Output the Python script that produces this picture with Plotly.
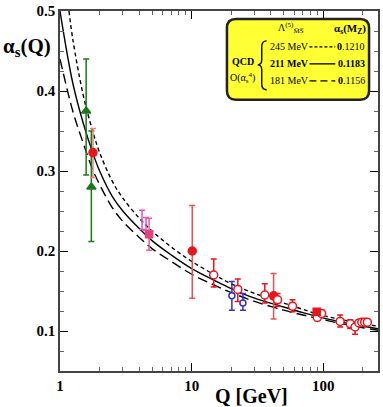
import plotly.graph_objects as go

# ---- data ----
curve_q = [1.0, 1.25, 1.5, 1.77, 2.0, 2.5, 3.0, 4.0, 5.0, 7.0, 10.0, 15.0, 20.0, 30.0, 50.0, 70.0, 91.2, 130.0, 200.0, 260.0]
curve_211 = [0.500, 0.410, 0.360, 0.323, 0.300, 0.268, 0.250, 0.228, 0.213, 0.195, 0.178, 0.163, 0.153, 0.141, 0.130, 0.123, 0.118, 0.112, 0.106, 0.103]
curve_q_245 = [1.17, 1.25, 1.5, 1.77, 2.0, 2.5, 3.0, 4.0, 5.0, 7.0, 10.0, 15.0, 20.0, 30.0, 50.0, 70.0, 91.2, 130.0, 200.0, 260.0]
curve_245 = [0.500, 0.465, 0.395, 0.350, 0.323, 0.287, 0.266, 0.241, 0.225, 0.205, 0.187, 0.170, 0.159, 0.147, 0.135, 0.127, 0.121, 0.115, 0.109, 0.106]
curve_181 = [0.440, 0.375, 0.335, 0.302, 0.283, 0.254, 0.237, 0.217, 0.203, 0.187, 0.171, 0.157, 0.148, 0.137, 0.126, 0.120, 0.1156, 0.110, 0.104, 0.101]

green_q = [1.58, 1.73]
green_a = [0.375, 0.280]
green_up = [0.065, 0.070]
green_dn = [0.080, 0.068]

tau_q = [1.78]
tau_a = [0.323]
tau_up = [0.030]
tau_dn = [0.031]

mag_q = [4.2, 4.5]
mag_a = [0.239, 0.234]
mag_up = [0.012, 0.008]
mag_dn = [0.012, 0.008]

ups_q = [4.75]
ups_a = [0.221]
ups_up = [0.020]
ups_dn = [0.020]

redf_q = [10.1, 41.9]
redf_a = [0.200, 0.144]
redf_up = [0.057, 0.028]
redf_dn = [0.059, 0.029]

blue_q = [20.2, 24.5]
blue_a = [0.144, 0.135]
blue_up = [0.018, 0.012]
blue_dn = [0.018, 0.009]

redo_q = [14.7, 22.4, 35.9, 44.9, 58.3, 90.0, 97.0, 134.0, 160.0, 174.0, 186.0, 196.0, 206.0, 216.0]
redo_a = [0.170, 0.152, 0.145, 0.139, 0.131, 0.117, 0.122, 0.112, 0.109, 0.105, 0.110, 0.111, 0.111, 0.111]
redo_up = [0.020, 0.013, 0.014, 0.008, 0.008, 0.004, 0.004, 0.008, 0.005, 0.005, 0.003, 0.003, 0.003, 0.003]
redo_dn = [0.015, 0.015, 0.010, 0.008, 0.007, 0.004, 0.004, 0.007, 0.006, 0.009, 0.003, 0.003, 0.003, 0.003]

mz_q = [89.0]
mz_a = [0.124]
mz_up = [0.003]
mz_dn = [0.003]

x_ticks = [1, 10, 100]
x_ticklabels = ["1", "10", "100"]
x_minor = [2, 3, 4, 5, 6, 7, 8, 9, 20, 30, 40, 50, 60, 70, 80, 90, 200]
y_ticks = [0.1, 0.2, 0.3, 0.4, 0.5]
y_ticklabels = ["0.1", "0.2", "0.3", "0.4", "0.5"]

FONT = "Liberation Serif"
RED = "#e8141e"

fig = go.Figure()

fig.add_trace(go.Scatter(x=curve_q_245, y=curve_245, mode="lines", line=dict(color="black", width=1.4, dash="4px,3px", shape="spline")))
fig.add_trace(go.Scatter(x=curve_q, y=curve_211, mode="lines", line=dict(color="black", width=1.4, shape="spline")))
fig.add_trace(go.Scatter(x=curve_q, y=curve_181, mode="lines", line=dict(color="black", width=1.4, dash="10px,5px", shape="spline")))


def pts(q, a, up, dn, symbol, color, fill, ecolor, size=8):
    fig.add_trace(go.Scatter(
        x=q, y=a, mode="markers",
        marker=dict(symbol=symbol, size=size, color=fill, line=dict(color=color, width=1.5)),
        error_y=dict(type="data", symmetric=False, array=up, arrayminus=dn,
                     color=ecolor, thickness=1.5, width=3),
        cliponaxis=False))


pts(green_q, green_a, green_up, green_dn, "triangle-up", "#1a7a1a", "#1a7a1a", "#1a7a1a", 8)
pts(tau_q, tau_a, tau_up, tau_dn, "circle", RED, RED, "#ee8080", 8)
pts(mag_q, mag_a, mag_up, mag_dn, "star-open", "#e050c0", "rgba(0,0,0,0)", "#e050c0", 8)
pts(ups_q, ups_a, ups_up, ups_dn, "square", "#e8407a", "#e8407a", "#e060a0", 7)
pts(redf_q, redf_a, redf_up, redf_dn, "circle", RED, RED, "#ee5050", 8)
pts(blue_q, blue_a, blue_up, blue_dn, "circle", "#3434c0", "white", "#3434c0", 6)
pts(redo_q, redo_a, redo_up, redo_dn, "circle", RED, "white", RED, 8)
pts(mz_q, mz_a, mz_up, mz_dn, "square", RED, RED, RED, 7)

# ---- legend box (paper coords from pixel layout) ----
L, R, T, B = 60, 380, 10, 371
W, H = R - L, B - T


def px(x):
    return (x - L) / W


def py(y):
    return (B - y) / H


bx0, bx1, by0, by1, rr = 228, 371, 18, 99, 9
path = (f"M {px(bx0+rr)},{py(by0)} L {px(bx1-rr)},{py(by0)} Q {px(bx1)},{py(by0)} {px(bx1)},{py(by0+rr)} "
        f"L {px(bx1)},{py(by1-rr)} Q {px(bx1)},{py(by1)} {px(bx1-rr)},{py(by1)} "
        f"L {px(bx0+rr)},{py(by1)} Q {px(bx0)},{py(by1)} {px(bx0)},{py(by1-rr)} "
        f"L {px(bx0)},{py(by0+rr)} Q {px(bx0)},{py(by0)} {px(bx0+rr)},{py(by0)} Z")
fig.add_shape(type="path", path=path, xref="paper", yref="paper",
              fillcolor="#ffff33", line=dict(color="#222222", width=2.5), layer="above")

# curly brace drawn as a path
brace = (f"M {px(268)},{py(40)} Q {px(263)},{py(40)} {px(263)},{py(46)} L {px(263)},{py(59)} "
         f"Q {px(263)},{py(64)} {px(259)},{py(64)} Q {px(263)},{py(64)} {px(263)},{py(69)} "
         f"L {px(263)},{py(83)} Q {px(263)},{py(89)} {px(268)},{py(89)}")
fig.add_shape(type="path", path=brace, xref="paper", yref="paper",
              line=dict(color="black", width=1.4), layer="above")

rows_y = [46, 63, 80]
lam_text = ["245 MeV", "<b>211 MeV</b>", "181 MeV"]
as_text = ["<b>0</b>.1210", "<b>0.1183</b>", "<b>0</b>.1156"]
dashes = ["3px,2px", "solid", "7px,4px"]
for yv, lt, at, ds in zip(rows_y, lam_text, as_text, dashes):
    fig.add_annotation(x=px(269), y=py(yv), xref="paper", yref="paper", text=lt, showarrow=False,
                       xanchor="left", yanchor="middle", font=dict(family=FONT, size=10, color="black"))
    fig.add_annotation(x=px(369), y=py(yv), xref="paper", yref="paper", text=at, showarrow=False,
                       xanchor="right", yanchor="middle", font=dict(family=FONT, size=10, color="black"))
    fig.add_shape(type="line", xref="paper", yref="paper", x0=px(311), x1=px(337), y0=py(yv), y1=py(yv),
                  line=dict(color="black", width=1.3, dash=ds), layer="above")

fig.add_annotation(x=px(292), y=py(27), xref="paper", yref="paper",
                   text="Λ<sup>(5)</sup><sub>M̅S̅</sub>", showarrow=False,
                   xanchor="center", yanchor="middle", font=dict(family=FONT, size=10, color="black"))
fig.add_annotation(x=px(352), y=py(28), xref="paper", yref="paper",
                   text="<b>α<sub>s</sub>(M<sub>Z</sub>)</b>", showarrow=False,
                   xanchor="center", yanchor="middle", font=dict(family=FONT, size=11, color="black"))
fig.add_annotation(x=px(244), y=py(61), xref="paper", yref="paper", text="<b>QCD</b>", showarrow=False,
                   xanchor="center", yanchor="middle", font=dict(family=FONT, size=10, color="black"))
fig.add_annotation(x=px(244), y=py(77), xref="paper", yref="paper", text="O(α<sub>s</sub><sup>4</sup>)",
                   showarrow=False, xanchor="center", yanchor="middle", font=dict(family=FONT, size=10, color="black"))

# axis titles
fig.add_annotation(x=px(27), y=py(46), xref="paper", yref="paper",
                   text="<b>α<sub>s</sub>(Q)</b>", showarrow=False, xanchor="center", yanchor="middle",
                   font=dict(family=FONT, size=21, color="black"))
fig.add_annotation(x=px(253), y=py(396), xref="paper", yref="paper",
                   text="<b>Q [GeV]</b>", showarrow=False, xanchor="center", yanchor="middle",
                   font=dict(family=FONT, size=20, color="black"))

fig.update_xaxes(type="log", range=[0, 2.415], tickvals=x_ticks, ticktext=x_ticklabels,
                 ticks="inside", ticklen=8, tickwidth=1, tickcolor="black",
                 showline=True, linecolor="#444444", linewidth=1.5, mirror="allticks",
                 showgrid=False, zeroline=False,
                 minor=dict(ticks="inside", ticklen=4, tickcolor="#666666", tickvals=x_minor, showgrid=False),
                 tickfont=dict(family=FONT, size=15, color="black", weight="bold"))
fig.update_yaxes(range=[0.05, 0.5], tickvals=y_ticks, ticktext=y_ticklabels,
                 ticks="inside", ticklen=8, tickwidth=1, tickcolor="black",
                 showline=True, linecolor="#444444", linewidth=1.5, mirror="allticks",
                 showgrid=False, zeroline=False,
                 minor=dict(ticks="inside", ticklen=4, tickcolor="#666666", dtick=0.025, showgrid=False),
                 tickfont=dict(family=FONT, size=15, color="black", weight="bold"))

fig.update_layout(width=383, height=407, margin=dict(l=60, r=3, t=10, b=36),
                  paper_bgcolor="white", plot_bgcolor="white", showlegend=False)

fig.write_html("out.html", config={"displayModeBar": False},
               post_script="document.body.style.margin='0px';document.body.style.overflow='hidden';")
